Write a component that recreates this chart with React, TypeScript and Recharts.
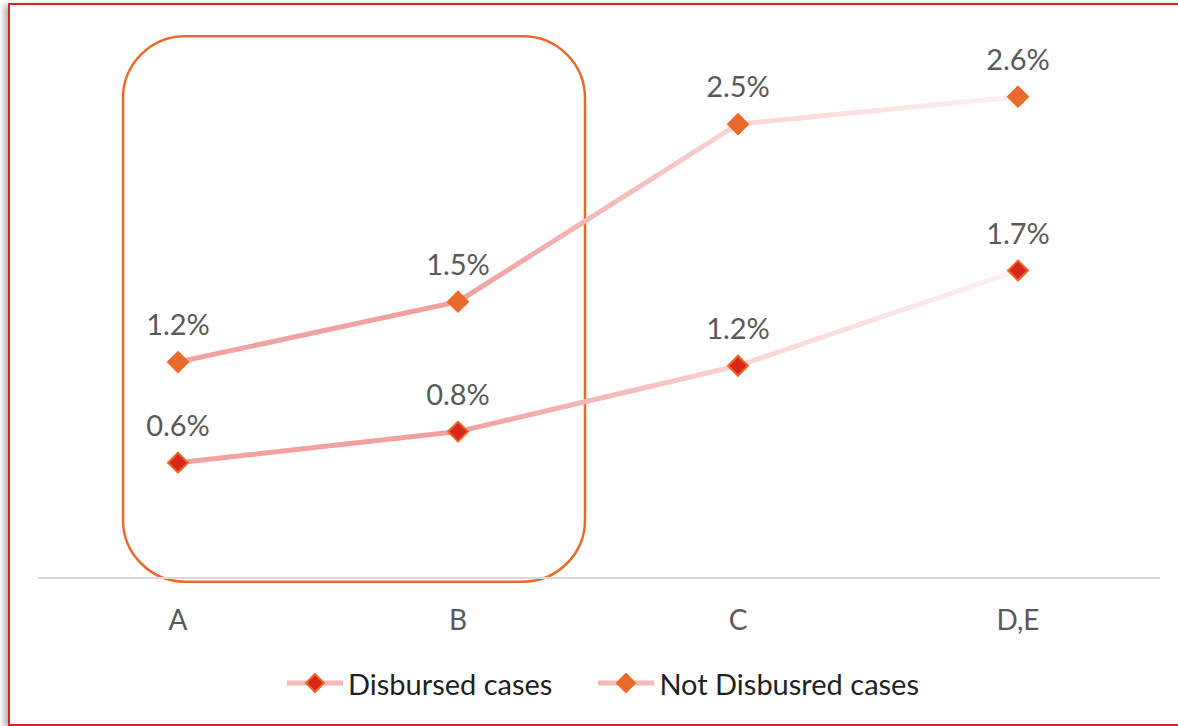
import { LineChart, Line, XAxis, YAxis, LabelList, Legend, ReferenceArea } from 'recharts';

const categories = ['A', 'B', 'C', 'D,E'];
const disbursed = [0.63, 0.8, 1.16, 1.68];
const notDisbursed = [1.18, 1.51, 2.48, 2.63];

const data = categories.map((name, i) => ({
  name,
  disbursed: disbursed[i],
  notDisbursed: notDisbursed[i],
}));

const FONT = 'Lato, "Open Sans", sans-serif';
const ORANGE = '#ea6a2c';
const RED = '#d9261c';

const diamond = (fill: string, stroke: string, r: number) => (props: any) => {
  const { cx, cy, index } = props;
  if (cx == null || cy == null) return <g key={index} />;
  return (
    <polygon
      key={index}
      points={`${cx},${cy - r} ${cx + r},${cy} ${cx},${cy + r} ${cx - r},${cy}`}
      fill={fill}
      stroke={stroke}
      strokeWidth={2}
    />
  );
};

const legendItems = [
  { label: 'Disbursed cases', fill: RED, stroke: ORANGE },
  { label: 'Not Disbusred cases', fill: ORANGE, stroke: ORANGE },
];

function LegendBox() {
  return (
    <div style={{ display: 'flex', justifyContent: 'center', alignItems: 'center', height: 40, paddingLeft: 8, fontFamily: FONT }}>
      {legendItems.map((it, i) => (
        <div key={i} style={{ display: 'flex', alignItems: 'center', marginLeft: i ? 46 : 0 }}>
          <svg width={56} height={24} style={{ marginRight: 5 }}>
            <line x1={0} y1={12} x2={56} y2={12} stroke="#f5b8b8" strokeWidth={5} />
            <polygon points="28,3 37,12 28,21 19,12" fill={it.fill} stroke={it.stroke} strokeWidth={2} />
          </svg>
          <span style={{ fontSize: 29, color: '#1f1f1f' }}>{it.label}</span>
        </div>
      ))}
    </div>
  );
}

export default function App() {
  return (
    <div style={{ position: 'absolute', left: 0, top: 0, width: 1178, height: 726, overflow: 'hidden', background: '#fff' }}>
      <div
        style={{
          position: 'absolute',
          left: 8,
          top: 3,
          width: 1200,
          height: 719,
          border: '2px solid #d8262b',
          boxShadow: '-4px 2px 6px rgba(0,0,0,0.3)',
          background: '#fff',
        }}
      />
      <div style={{ position: 'absolute', left: 0, top: 0 }}>
        <LineChart width={1178} height={726} data={data} margin={{ top: 29, right: 18, left: 38, bottom: 23 }}>
          <defs>
            <linearGradient id="fade" x1="0" y1="0" x2="1" y2="0">
              <stop offset="0" stopColor="#f1a3a3" />
              <stop offset="0.33" stopColor="#f0a0a0" />
              <stop offset="0.55" stopColor="#f5bfbf" />
              <stop offset="0.68" stopColor="#f9d6d6" />
              <stop offset="1" stopColor="#fdf1f1" />
            </linearGradient>
          </defs>
          <XAxis
            dataKey="name"
            padding={{ left: 140, right: 142 }}
            axisLine={{ stroke: '#d9d9d9', strokeWidth: 2 }}
            tickLine={false}
            tickMargin={26}
            height={85}
            tick={{ fill: '#595959', fontSize: 28, fontFamily: FONT }}
          />
          <YAxis hide domain={[0, 3]} />
          <ReferenceArea
            x1="A"
            x2="B"
            y1={-0.02}
            y2={2.96}
            ifOverflow="visible"
            shape={(p: any) => (
              <rect x={p.x - 55} y={p.y} width={p.width + 182} height={p.height} rx={62} ry={62} fill="none" stroke={ORANGE} strokeWidth={2.5} />
            )}
          />
          <Line
            dataKey="disbursed"
            name="Disbursed cases"
            stroke="url(#fade)"
            strokeWidth={5}
            dot={diamond(RED, ORANGE, 10)}
            activeDot={false}
            isAnimationActive={false}
          >
            <LabelList dataKey="disbursed" position="top" offset={27} formatter={(v: any) => `${Number(v).toFixed(1)}%`} fill="#595959" fontSize={29} fontFamily={FONT} />
          </Line>
          <Line
            dataKey="notDisbursed"
            name="Not Disbusred cases"
            stroke="url(#fade)"
            strokeWidth={5}
            dot={diamond(ORANGE, ORANGE, 10)}
            activeDot={false}
            isAnimationActive={false}
          >
            <LabelList dataKey="notDisbursed" position="top" offset={27} formatter={(v: any) => `${Number(v).toFixed(1)}%`} fill="#595959" fontSize={29} fontFamily={FONT} />
          </Line>
          <Legend verticalAlign="bottom" height={40} content={() => <LegendBox />} />
        </LineChart>
      </div>
    </div>
  );
}
